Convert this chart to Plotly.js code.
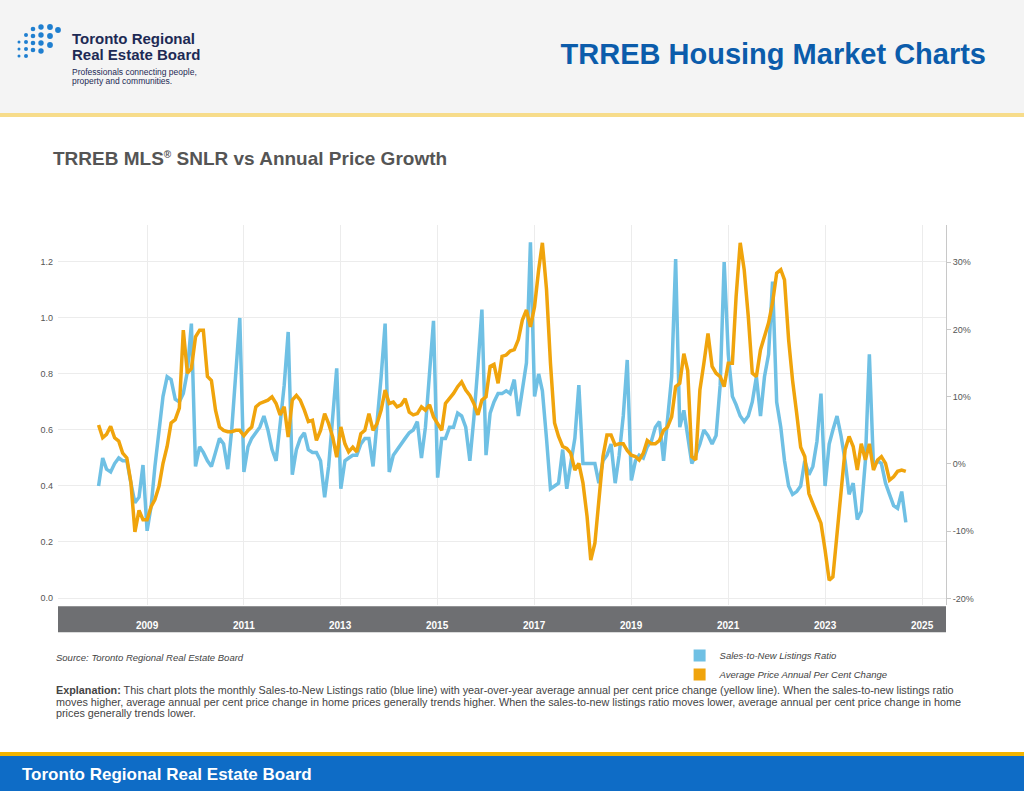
<!DOCTYPE html>
<html>
<head>
<meta charset="utf-8">
<script src="https://cdn.plot.ly/plotly-3.0.1.min.js"></script>
<style>
  body { margin: 0; width: 1024px; height: 791px; position: relative; overflow: hidden;
         font-family: "Liberation Sans", Arial, sans-serif; background: #fff; }
  #cabecera { position: absolute; left: 0; top: 0; width: 1024px; height: 113px; background: #f4f4f4;
              border-bottom: 4px solid #f7dc8a; }
  #titulo { position: absolute; right: 38px; top: 38px; font-size: 29px; font-weight: bold; color: #0b5cab; }
  #logo1 { position: absolute; left: 72px; top: 31px; font-size: 15px; font-weight: bold; color: #1d2a55; line-height: 16px; }
  #logo2 { position: absolute; left: 72px; top: 68px; font-size: 8.5px; color: #1d2a55; line-height: 9px; }
  #subtitulo { position: absolute; left: 53px; top: 148px; font-size: 19px; font-weight: bold; color: #555; }
  #subtitulo sup { font-size: 10px; }
  #fuente { position: absolute; left: 56px; top: 652px; font-size: 9.5px; font-style: italic; color: #444; }
  #explicacion { position: absolute; left: 56px; top: 685px; width: 932px; font-size: 10.8px; color: #444; line-height: 11.5px; }
  #pie { position: absolute; left: 0; top: 752px; width: 1024px; height: 35px; background: #0e6cc6;
         border-top: 4px solid #f2b400; }
  #pie span { position: absolute; left: 22px; top: 9px; color: #fff; font-weight: bold; font-size: 17px; }
  #grafico { position: absolute; left: 0; top: 0; width: 1024px; height: 791px; }
</style>
</head>
<body>
<div id="cabecera">
  <svg width="60" height="60" style="position:absolute;left:14px;top:22px">
    <g fill="#1f7fd0">
      <circle cx="5" cy="20" r="1.5"/><circle cx="5" cy="27" r="1.5"/><circle cx="5" cy="34" r="1.5"/>
      <circle cx="12" cy="13" r="2"/><circle cx="12" cy="20" r="2"/><circle cx="12" cy="27" r="2"/><circle cx="12" cy="34" r="2"/>
      <circle cx="19" cy="7" r="2.3"/><circle cx="19" cy="14" r="2.3"/><circle cx="19" cy="21" r="2.3"/><circle cx="19" cy="28" r="2.3"/>
      <circle cx="27" cy="5" r="2.7"/><circle cx="27" cy="13" r="2.7"/><circle cx="27" cy="21" r="2.7"/><circle cx="27" cy="29" r="2.7"/>
      <circle cx="36" cy="5" r="2.9"/><circle cx="36" cy="14" r="2.9"/><circle cx="36" cy="23" r="2.9"/><circle cx="44" cy="8" r="2.9"/>
    </g>
  </svg>
  <div id="logo1">Toronto Regional<br>Real Estate Board</div>
  <div id="logo2">Professionals connecting people,<br>property and communities.</div>
  <div id="titulo">TRREB Housing Market Charts</div>
</div>
<div id="subtitulo">TRREB MLS<sup>®</sup> SNLR vs Annual Price Growth</div>
<div id="fuente">Source: Toronto Regional Real Estate Board</div>
<div id="explicacion"><b>Explanation:</b> This chart plots the monthly Sales-to-New Listings ratio (blue line) with year-over-year average annual per cent price change (yellow line). When the sales-to-new listings ratio moves higher, average annual per cent price change in home prices generally trends higher. When the sales-to-new listings ratio moves lower, average annual per cent price change in home prices generally trends lower.</div>
<div id="pie"><span>Toronto Regional Real Estate Board</span></div>
<div id="grafico"></div>

<script>
/* ============================================================================
 * Datos (mensuales, enero 2008 - septiembre 2024)
 * ========================================================================== */

const INICIO = [2008, 1];

// Sales-to-New Listings Ratio
const snlr = [
  0.40,0.50,0.46,0.45,0.48,0.50,0.49,0.49,0.41,0.34,0.36,0.475,
  0.24,0.33,0.47,0.61,0.72,0.79,0.78,0.71,0.70,0.73,0.81,0.98,
  0.47,0.54,0.52,0.49,0.47,0.52,0.57,0.55,0.46,0.60,0.79,1.00,
  0.45,0.54,0.57,0.59,0.61,0.65,0.60,0.53,0.49,0.62,0.76,0.95,
  0.44,0.53,0.57,0.59,0.53,0.52,0.52,0.49,0.36,0.47,0.64,0.82,
  0.39,0.49,0.50,0.51,0.51,0.55,0.57,0.57,0.47,0.62,0.79,0.98,
  0.45,0.51,0.53,0.55,0.57,0.59,0.60,0.63,0.50,0.61,0.79,0.99,
  0.43,0.57,0.57,0.61,0.61,0.66,0.65,0.61,0.49,0.64,0.83,1.03,
  0.51,0.66,0.70,0.73,0.73,0.74,0.73,0.78,0.65,0.74,0.84,1.27,
  0.72,0.80,0.74,0.57,0.39,0.40,0.41,0.53,0.39,0.48,0.57,0.76,
  0.48,0.48,0.48,0.48,0.41,0.49,0.51,0.55,0.41,0.51,0.65,0.85,
  0.42,0.49,0.51,0.50,0.54,0.56,0.61,0.63,0.49,0.63,0.79,1.21,
  0.61,0.67,0.57,0.48,0.51,0.55,0.60,0.58,0.55,0.58,0.76,1.20,
  0.87,0.72,0.69,0.65,0.63,0.65,0.70,0.79,0.65,0.79,0.87,1.13,
  0.70,0.61,0.49,0.40,0.37,0.38,0.40,0.49,0.44,0.47,0.56,0.73,
  0.40,0.55,0.60,0.65,0.58,0.49,0.37,0.41,0.28,0.31,0.49,0.87,
  0.47,0.49,0.48,0.41,0.37,0.33,0.32,0.38,0.27
];

// Variación anual del precio medio (%)
const variacionPrecio = [
  5.8,3.9,4.4,5.6,3.9,3.4,1.6,0.9,-2.8,-10.1,-6.9,-8.3,
  -8.3,-6.3,-5.3,-3.3,0.1,2.6,6.1,6.6,8.3,19.9,13.5,14.2,
  18.9,19.9,19.9,13.0,12.4,8.0,5.5,5.0,4.8,4.8,5.0,5.0,
  4.2,5.0,5.5,8.5,9.0,9.2,9.5,10.0,9.0,7.3,8.5,4.0,
  9.5,10.2,9.5,8.0,6.3,6.5,3.5,5.0,7.5,6.0,4.0,1.0,
  5.5,3.0,1.8,2.5,1.8,4.5,5.0,7.5,5.0,6.0,8.0,11.0,
  9.0,9.2,8.5,8.8,9.7,7.7,7.3,7.5,8.5,8.0,8.8,7.0,
  6.0,5.0,9.0,9.7,10.5,11.5,12.2,11.0,10.2,9.0,7.3,9.5,
  10.0,14.5,14.8,12.0,16.0,16.2,16.8,17.0,18.5,21.4,22.9,20.4,
  23.4,28.9,32.9,26.0,15.0,6.1,4.1,2.6,2.3,1.6,-0.9,0.1,
  -2.8,-7.8,-14.3,-11.8,-4.9,1.1,4.3,4.3,2.8,3.0,3.0,2.0,
  1.3,1.1,0.6,1.6,3.5,3.0,3.0,3.5,5.0,5.5,7.0,11.5,
  12.0,16.4,13.9,1.1,0.6,11.0,15.0,19.4,14.5,13.5,13.0,11.5,
  15.0,15.0,24.9,32.9,28.9,21.9,13.5,13.0,17.0,19.0,21.0,24.0,
  28.4,28.9,27.4,18.5,12.4,7.5,2.5,1.1,-4.4,-5.9,-7.4,-8.8,
  -12.8,-17.3,-16.8,-10.8,-4.9,2.1,4.1,2.6,-0.9,3.0,0.6,3.0,
  -0.9,0.6,1.1,0.1,-2.4,-1.9,-1.1,-0.9,-1.1
];

const etiquetasAnios = ["2009", "2011", "2013", "2015", "2017", "2019", "2021", "2023", "2025"];
const valoresPorcentaje = [-20, -10, 0, 10, 20, 30];

/* ============================================================================
 * Funciones Auxiliares
 * ========================================================================== */

function generarFechas(n) {
  const fechas = [];
  for (let i = 0; i < n; i++) {
    const total = INICIO[1] - 1 + i;
    const anio = INICIO[0] + Math.floor(total / 12);
    const mes = (total % 12) + 1;
    fechas.push(anio + "-" + String(mes).padStart(2, "0") + "-01");
  }
  return fechas;
}

/* ============================================================================
 * Construcción del Gráfico
 * ========================================================================== */

function crearGrafico() {
  const fechas = generarFechas(snlr.length);
  const AZUL = "#6fc0e4";
  const NARANJA = "#f0a40c";

  const trazaSnlr = {
    type: "scatter", mode: "lines", x: fechas, y: snlr,
    line: { color: AZUL, width: 3.5 }, showlegend: false, hoverinfo: "skip"
  };
  const trazaPrecio = {
    type: "scatter", mode: "lines", x: fechas, y: variacionPrecio, yaxis: "y2",
    line: { color: NARANJA, width: 3.5 }, showlegend: false, hoverinfo: "skip"
  };
  // Trazas vacías sólo para la leyenda con cuadrados
  const leyendaSnlr = {
    type: "scatter", mode: "markers", x: [null], y: [null], name: "Sales-to-New Listings Ratio",
    marker: { symbol: "square", size: 12, color: AZUL }
  };
  const leyendaPrecio = {
    type: "scatter", mode: "markers", x: [null], y: [null], name: "Average Price Annual Per Cent Change",
    marker: { symbol: "square", size: 12, color: NARANJA }
  };

  const anotaciones = etiquetasAnios.map(a => ({
    x: a + "-01-01", xref: "x", y: -0.055, yref: "paper", yanchor: "middle",
    text: "<b>" + a + "</b>", showarrow: false, font: { color: "#fff", size: 10 }
  }));

  const layout = {
    width: 1024, height: 791,
    margin: { l: 58, r: 78, t: 225, b: 186 },
    paper_bgcolor: "rgba(0,0,0,0)",
    plot_bgcolor: "#fff",
    font: { family: "Liberation Sans, Arial, sans-serif", color: "#555", size: 9 },
    xaxis: {
      type: "date", range: ["2007-03-01", "2025-07-01"],
      tick0: "2009-01-01", dtick: "M24", showticklabels: false,
      showgrid: true, gridcolor: "#ececec", zeroline: false
    },
    yaxis: {
      range: [-0.025, 1.332], tickvals: [0, 0.2, 0.4, 0.6, 0.8, 1.0, 1.2],
      ticktext: ["0.0", "0.2", "0.4", "0.6", "0.8", "1.0", "1.2"],
      gridcolor: "#ececec", zeroline: false, ticks: "", ticklabelstandoff: 4
    },
    yaxis2: {
      overlaying: "y", side: "right", range: [-20.98, 35.55],
      tickvals: valoresPorcentaje, ticktext: valoresPorcentaje.map(v => v + "%"),
      showgrid: false, zeroline: false, showline: true, linecolor: "#c8c8c8",
      ticks: "outside", ticklen: 4, tickcolor: "#c8c8c8"
    },
    shapes: [{
      type: "rect", xref: "paper", yref: "paper", x0: 0, x1: 1, y0: -0.072, y1: -0.003,
      fillcolor: "#6e6f72", line: { width: 0 }
    }],
    annotations: anotaciones,
    legend: {
      x: 0.7, y: -0.095, xanchor: "left", yanchor: "top",
      font: { size: 9.5, color: "#444", style: "italic" }, bgcolor: "rgba(0,0,0,0)",
      itemwidth: 30, tracegroupgap: 0
    }
  };

  Plotly.newPlot("grafico", [trazaSnlr, trazaPrecio, leyendaSnlr, leyendaPrecio], layout,
    { displayModeBar: false, staticPlot: true });
}

document.addEventListener("DOMContentLoaded", () => {
  crearGrafico();
});
</script>
</body>
</html>
